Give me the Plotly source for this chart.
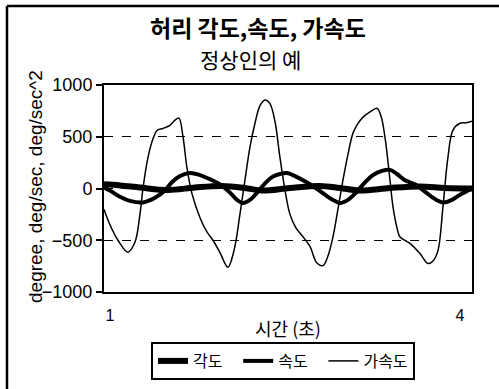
import plotly.graph_objects as go

# ---- data ----
acc_t = [0.949, 1.000, 1.069, 1.154, 1.214, 1.257, 1.283, 1.326, 1.369, 1.403, 1.454, 1.514, 1.557,
         1.591, 1.626, 1.660, 1.703, 1.771, 1.831, 1.883, 1.943, 2.011, 2.063, 2.114, 2.157, 2.200,
         2.243, 2.286, 2.329, 2.371, 2.414, 2.457, 2.500, 2.543, 2.594, 2.654, 2.714, 2.774, 2.826,
         2.869, 2.911, 2.954, 2.997, 3.040, 3.083, 3.126, 3.169, 3.229, 3.289, 3.323, 3.357, 3.400,
         3.426, 3.460, 3.486, 3.571, 3.657, 3.726, 3.769, 3.811, 3.854, 3.897, 3.940, 4.000, 4.051, 4.103]
acc_v = [-200, -350, -500, -615, -520, -250, 0, 300, 480, 560, 580, 610, 660,
         680, 500, 200, -50, -280, -420, -500, -620, -760, -600, -250, 80, 400,
         630, 800, 855, 820, 650, 300, -15, -250, -380, -465, -560, -720, -745,
         -650, -470, -200, 80, 330, 535, 630, 690, 740, 775, 700, 497, 82,
         -178, -380, -468, -530, -628, -725, -700, -600, -178, 304, 565, 630, 635, 650]

vel_t = [0.949, 1.000, 1.086, 1.171, 1.283, 1.386, 1.471, 1.531, 1.600, 1.686, 1.771, 1.857, 1.943,
         2.029, 2.089, 2.140, 2.200, 2.269, 2.329, 2.389, 2.457, 2.517, 2.586, 2.671, 2.757, 2.843,
         2.911, 2.971, 3.040, 3.109, 3.186, 3.254, 3.331, 3.400, 3.460, 3.529, 3.614, 3.700, 3.769,
         3.854, 3.931, 4.000, 4.069, 4.103]
vel_v = [10, -20, -80, -120, -135, -90, -20, 60, 120, 150, 130, 90, 40,
         -40, -110, -140, -110, -30, 50, 110, 140, 150, 120, 70, 10, -60,
         -110, -140, -110, -40, 60, 130, 170, 180, 140, 80, 40, -30, -90,
         -135, -110, -60, -20, 0]

ang_t = [0.949, 1.086, 1.257, 1.497, 1.729, 1.960, 2.157, 2.303, 2.543, 2.800, 2.971, 3.143, 3.400,
         3.657, 3.871, 4.103]
ang_v = [40, 30, 10, -15, 10, 25, 5, -20, 5, 25, 5, -20, 5, 20, 5, 0]

series_names = ["각도", "속도", "가속도"]
title_text = "허리 각도,속도, 가속도"
subtitle_text = "정상인의 예"
x_title = "시간 (초)"
y_title = "degree, deg/sec, deg/sec^2"
y_ticks = [-1000, -500, 0, 500, 1000]
x_ticks = [1, 4]

# ---- layout geometry ----
W, H = 499, 389
L, R, T, B = 104, 472, 85, 292

def px(x):
    return (x - L) / (R - L)

def py(y):
    return (B - y) / (B - T)

KR = "Noto Sans CJK KR"
NUM = "Liberation Sans, Arial, Noto Sans CJK KR"

fig = go.Figure()
fig.add_trace(go.Scatter(x=ang_t, y=ang_v, mode="lines", name=series_names[0] + "   ",
                         line=dict(color="black", width=6, shape="spline")))
fig.add_trace(go.Scatter(x=vel_t, y=vel_v, mode="lines", name=series_names[1] + "   ",
                         line=dict(color="black", width=4, shape="spline")))
fig.add_trace(go.Scatter(x=acc_t, y=acc_v, mode="lines", name=series_names[2],
                         line=dict(color="black", width=1.5, shape="spline")))

fig.update_layout(
    width=W, height=H,
    margin=dict(l=L, r=W - R, t=T, b=H - B, pad=0, autoexpand=False),
    paper_bgcolor="white", plot_bgcolor="white",
    showlegend=True,
    legend=dict(orientation="h", x=px(283), xanchor="center", y=py(342), yanchor="top",
                bordercolor="black", borderwidth=2, bgcolor="white",
                font=dict(family=KR, size=16, color="black"),
                itemwidth=30, tracegroupgap=0),
    xaxis=dict(range=[0.949, 4.103], tickvals=x_ticks, ticktext=[str(v) for v in x_ticks],
               showgrid=False, zeroline=False, showline=True, linecolor="black", linewidth=2,
               mirror=True, ticks="", ticklabelstandoff=8,
               tickfont=dict(family=NUM, size=16, color="black")),
    yaxis=dict(range=[-1000, 1000], tickvals=y_ticks, showgrid=True, gridcolor="black",
               griddash="dash", gridwidth=1.3, zeroline=False, showline=True, linecolor="black",
               linewidth=2, mirror=True, ticks="outside", ticklen=6, tickcolor="black", tickwidth=1.5,
               tickfont=dict(family=NUM, size=18, color="black")),
    annotations=[
        dict(text="<b>" + title_text + "</b>", x=px(258), y=py(27), xref="paper", yref="paper",
             showarrow=False, font=dict(family=KR, size=23, color="black"), xanchor="center", yanchor="middle"),
        dict(text=subtitle_text, x=px(250), y=py(59.5), xref="paper", yref="paper",
             showarrow=False, font=dict(family=KR, size=21, color="black"), xanchor="center", yanchor="middle"),
        dict(text=x_title, x=px(288), y=py(328), xref="paper", yref="paper",
             showarrow=False, font=dict(family=KR, size=18, color="black"), xanchor="center", yanchor="middle"),
        dict(text=y_title, x=px(35), y=py(187), xref="paper", yref="paper", textangle=-90,
             showarrow=False, font=dict(family=NUM, size=19, color="black"), xanchor="center", yanchor="middle"),
    ],
    shapes=[
        dict(type="line", xref="paper", yref="paper", x0=px(7), x1=px(7), y0=py(6), y1=py(400),
             line=dict(color="black", width=2.5)),
        dict(type="line", xref="paper", yref="paper", x0=px(7), x1=px(510), y0=py(6), y1=py(6),
             line=dict(color="black", width=2.5)),
    ],
)

fig.write_html("out.html", config={"displayModeBar": False},
               post_script="document.body.style.margin='0';document.body.style.overflow='hidden';")
